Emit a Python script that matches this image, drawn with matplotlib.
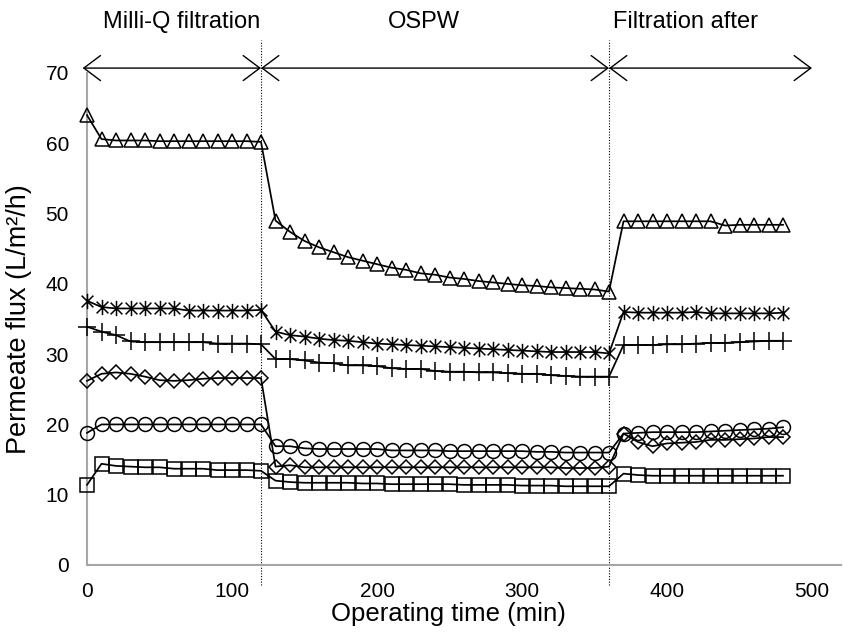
import matplotlib
matplotlib.use("Agg")
import matplotlib.pyplot as plt
from matplotlib.path import Path
from matplotlib import font_manager

# ---------------- data ----------------
time_min = [0, 10, 20, 30, 40, 50, 60, 70, 80, 90, 100, 110, 120,
            130, 140, 150, 160, 170, 180, 190, 200, 210, 220, 230, 240,
            250, 260, 270, 280, 290, 300, 310, 320, 330, 340, 350, 360,
            370, 380, 390, 400, 410, 420, 430, 440, 450, 460, 470, 480]

flux_triangle = [64.0, 60.6, 60.4, 60.4, 60.4, 60.3, 60.3, 60.3, 60.3, 60.3, 60.3, 60.3, 60.2,
                 49.0, 47.4, 46.1, 45.2, 44.5, 43.8, 43.3, 42.8, 42.3, 42.0, 41.5, 41.3,
                 40.9, 40.7, 40.4, 40.2, 40.0, 39.8, 39.7, 39.5, 39.4, 39.3, 39.2, 38.9,
                 48.9, 48.9, 48.9, 48.9, 48.9, 48.9, 48.9, 48.3, 48.4, 48.4, 48.4, 48.4]

flux_asterisk = [37.6, 36.7, 36.5, 36.5, 36.5, 36.5, 36.5, 36.2, 36.2, 36.2, 36.2, 36.2, 36.3,
                 33.2, 32.7, 32.5, 32.2, 32.0, 31.9, 31.7, 31.5, 31.4, 31.3, 31.2, 31.1,
                 31.0, 30.9, 30.8, 30.7, 30.6, 30.5, 30.4, 30.3, 30.3, 30.3, 30.3, 30.1,
                 36.0, 35.9, 35.9, 35.9, 35.9, 36.0, 35.8, 35.8, 35.8, 35.8, 35.8, 35.9]

flux_plus = [33.9, 33.2, 32.7, 31.8, 31.7, 31.7, 31.7, 31.7, 31.7, 31.5, 31.5, 31.5, 31.4,
             29.3, 29.3, 29.1, 28.8, 28.7, 28.4, 28.4, 28.3, 28.0, 27.9, 27.9, 27.6,
             27.5, 27.5, 27.4, 27.4, 27.3, 27.2, 27.2, 27.0, 26.9, 26.8, 26.8, 26.8,
             31.3, 31.3, 31.3, 31.4, 31.4, 31.5, 31.6, 31.6, 31.7, 31.8, 31.9, 31.9]

flux_diamond = [26.2, 27.2, 27.4, 27.2, 26.8, 26.3, 26.2, 26.3, 26.5, 26.6, 26.6, 26.6, 26.6,
                14.0, 14.2, 13.9, 13.9, 13.9, 13.9, 13.9, 13.9, 13.9, 13.9, 13.9, 13.9,
                13.9, 13.9, 13.9, 13.9, 13.9, 13.9, 13.9, 13.9, 13.8, 13.8, 13.8, 14.0,
                18.7, 17.5, 16.9, 17.3, 17.4, 17.5, 17.8, 17.8, 17.9, 18.0, 18.2, 18.2]

flux_circle = [18.8, 20.0, 20.0, 20.0, 20.0, 20.0, 20.0, 20.0, 20.0, 20.0, 20.0, 20.0, 20.0,
               16.9, 16.9, 16.6, 16.5, 16.5, 16.5, 16.5, 16.5, 16.3, 16.3, 16.3, 16.3,
               16.2, 16.2, 16.2, 16.2, 16.2, 16.2, 16.1, 16.1, 16.0, 16.0, 16.0, 16.0,
               18.7, 18.8, 18.9, 18.9, 18.9, 18.9, 19.0, 19.1, 19.2, 19.3, 19.4, 19.6]

flux_square = [11.4, 14.4, 14.1, 14.0, 13.9, 13.9, 13.7, 13.7, 13.7, 13.5, 13.5, 13.5, 13.4,
               12.0, 11.8, 11.7, 11.7, 11.7, 11.7, 11.6, 11.6, 11.5, 11.5, 11.5, 11.5,
               11.5, 11.4, 11.4, 11.4, 11.4, 11.3, 11.3, 11.3, 11.2, 11.2, 11.2, 11.2,
               13.0, 12.8, 12.7, 12.7, 12.7, 12.7, 12.7, 12.7, 12.7, 12.7, 12.7, 12.7]

phase_bounds = [0, 120, 360, 500]
phase_labels = ["Milli-Q filtration", "OSPW", "Filtration after"]
phase_label_x = [65, 232, 413]

x_ticks = [0, 100, 200, 300, 400, 500]
y_ticks = [0, 10, 20, 30, 40, 50, 60, 70]

# ---------------- style ----------------
available = {f.name for f in font_manager.fontManager.ttflist}
FONT = "Liberation Sans" if "Liberation Sans" in available else "DejaVu Sans"
plt.rcParams["font.family"] = [FONT, "DejaVu Sans"]

fig = plt.figure(figsize=(8.44, 6.35), dpi=100)
ax = fig.add_axes([87 / 844, 1 - 565 / 635, (841 - 87) / 844, (565 - 73) / 635])

# asterisk marker: X plus vertical bar
ast_path = Path([(-1, -1), (1, 1), (-1, 1), (1, -1), (0, -1.3), (0, 1.3)],
                [Path.MOVETO, Path.LINETO, Path.MOVETO, Path.LINETO, Path.MOVETO, Path.LINETO])

common = dict(color="black", lw=1.25, markerfacecolor="none", markeredgecolor="black",
              markeredgewidth=1.1, clip_on=False, zorder=3)
ax.plot(time_min, flux_triangle, marker="^", ms=10.5, **common)
ax.plot(time_min, flux_asterisk, marker=ast_path, ms=11, **common)
ax.plot(time_min, flux_plus, marker="+", ms=13, **common)
ax.plot(time_min, flux_diamond, marker="D", ms=7.5, **common)
ax.plot(time_min, flux_circle, marker="o", ms=10, **common)
ax.plot(time_min, flux_square, marker="s", ms=9.5, **common)

ax.set_xlim(0, 520)
ax.set_ylim(0, 70)
ax.set_xticks(x_ticks)
ax.set_yticks(y_ticks)
ax.tick_params(length=0, labelsize=15)
ax.tick_params(axis="x", pad=12)
ax.tick_params(axis="y", pad=13)

for s in ["top", "right"]:
    ax.spines[s].set_visible(False)
for s in ["left", "bottom"]:
    ax.spines[s].set_color("#a6a6a6")
    ax.spines[s].set_linewidth(1.5)

ax.set_xlabel("Operating time (min)", fontsize=18.5)
ax.set_ylabel("Permeate flux (L/m²/h)", fontsize=19.5)
ax.xaxis.set_label_coords((448 - 87) / 754, (565 - 602) / 492)
ax.yaxis.set_label_coords((32 - 87) / 754, 0.5)

# dotted phase separators
for xb in phase_bounds[1:3]:
    ax.plot([xb, xb], [-2.8, 74.7], color="black", lw=0.8, ls=(0, (1, 1.5)),
            clip_on=False, zorder=2)

# phase arrows
for i in range(3):
    x0 = phase_bounds[i] - (3 if i == 0 else 0)
    x1 = phase_bounds[i + 1]
    ax.annotate("", xy=(x0, 70.7), xytext=(x1, 70.7), xycoords="data",
                arrowprops=dict(arrowstyle="<->,head_length=1.2,head_width=0.9",
                                lw=1.0, color="black", shrinkA=0, shrinkB=0),
                annotation_clip=False)
    ax.text(phase_label_x[i], 77.2, phase_labels[i], ha="center", va="center",
            fontsize=17, clip_on=False)

fig.savefig("out.png", dpi=100)
